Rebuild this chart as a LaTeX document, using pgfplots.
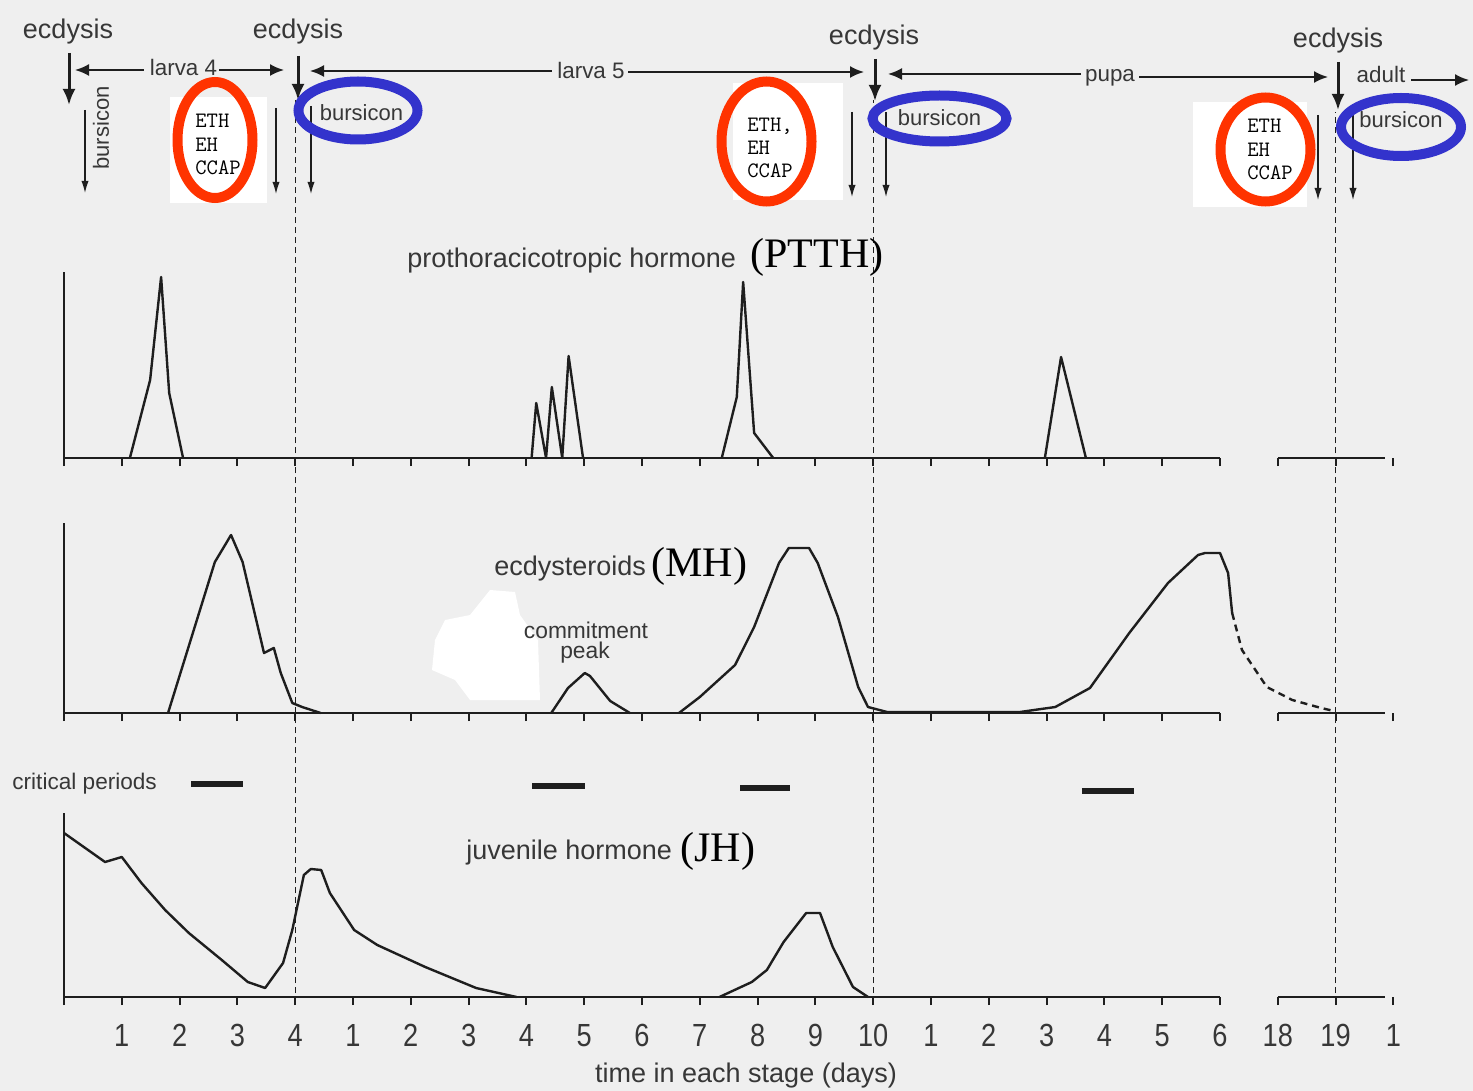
\documentclass[border=0pt]{standalone}
\usepackage{fontspec}
\setmainfont{Liberation Sans}
\newfontfamily\serif{Liberation Serif}
\usepackage{pgfplots}
\pgfplotsset{compat=1.18}
\usetikzlibrary{arrows.meta}
\definecolor{bg}{RGB}{239,239,239}
\definecolor{ink}{RGB}{30,30,30}
\definecolor{txt}{RGB}{55,55,55}
\definecolor{ered}{RGB}{255,51,0}
\definecolor{eblue}{RGB}{51,51,204}
\pgfplotsset{
  stage/.style={x=28.9pt, y=0.5pt, xmin=0, xmax=23, ymin=0, clip=false, anchor=south west,
    axis x line*=bottom, axis y line*=left,
    x axis line style={draw=none}, y axis line style={line width=1pt, ink},
    ytick=\empty, xtick={0,...,23}, xticklabels={}, tick align=outside, major tick length=4pt,
    every tick/.style={ink, line width=1pt}},
  curve/.style={ink, line width=1.2pt, line join=round, mark=none},
  base/.style={ink, line width=1pt, mark=none},
  dline/.style={ink, line width=0.7pt, dash pattern=on 3pt off 2pt, mark=none},
  crit/.style={ink, line width=2.6pt, mark=none},
}
\newcommand{\fs}[1]{\fontsize{#1}{#1}\selectfont}
\begin{document}
\begin{tikzpicture}
\begin{scope}[x=0.5pt,y=-0.5pt]
  \fill[bg] (0,0) rectangle (1473,1091);
  \path[use as bounding box] (0,0) rectangle (1473,1091);
  \fill[white] (170,97) rectangle (267,203);
  \fill[white] (733,83) rectangle (843,200);
  \fill[white] (1193,102) rectangle (1307,207);
  \fill[white] (490,590) -- (515,592) -- (520,615) -- (538,640) -- (540,700) -- (470,700) -- (455,680) -- (432,670) -- (435,640) -- (445,620) -- (470,615) -- cycle;
\end{scope}

% PTTH
\begin{axis}[stage, at={(32pt,-229pt)}, ymax=186]
  \addplot[base] coordinates {(0,0) (20,0)};
  \addplot[base] coordinates {(21,0) (22.85,0)};
  \addplot[curve] coordinates {(1.14,0) (1.49,78) (1.68,181) (1.82,65) (2.06,0)};
  \addplot[curve] coordinates {(8.09,0) (8.17,55) (8.34,0) (8.44,71) (8.62,0) (8.73,102) (8.98,0)};
  \addplot[curve] coordinates {(11.38,0) (11.64,61) (11.75,176) (11.94,25) (12.27,0)};
  \addplot[curve] coordinates {(16.97,0) (17.25,101) (17.68,0)};
\end{axis}

% ecdysteroids
\begin{axis}[stage, at={(32pt,-356.5pt)}, ymax=190]
  \addplot[base] coordinates {(0,0) (20,0)};
  \addplot[base] coordinates {(21,0) (22.85,0)};
  \addplot[curve] coordinates {(1.80,0) (2.61,151) (2.89,178) (3.09,151) (3.46,60) (3.63,65) (3.75,40) (3.95,10) (4.12,6) (4.44,0)};
  \addplot[curve] coordinates {(8.43,0) (8.72,25) (9.01,40) (9.10,37) (9.45,12) (9.79,0)};
  \addplot[curve] coordinates {(10.64,0) (11.0,16) (11.61,48) (11.94,86) (12.37,150) (12.54,165) (12.89,165) (13.04,150) (13.39,96) (13.74,26) (13.91,6) (14.24,1) (16.54,1) (17.15,6) (17.75,25) (18.43,80) (19.10,130) (19.62,158) (19.74,160) (20.0,160) (20.14,140) (20.21,100)};
  \addplot[curve, dash pattern=on 3.5pt off 2.5pt] coordinates {(20.21,100) (20.38,63) (20.81,26) (21.25,13) (21.75,5) (21.97,2)};
\end{axis}

% JH
\begin{axis}[stage, at={(32pt,-498.5pt)}, ymax=184,
    xticklabels={,1,2,3,4,1,2,3,4,5,6,7,8,9,10,1,2,3,4,5,6,18,19,1},
    xticklabel style={font=\fs{16}, txt, xscale=0.85, yshift=-6pt},
    /pgf/number format/assume math mode=true]
  \addplot[base] coordinates {(0,0) (20,0)};
  \addplot[base] coordinates {(21,0) (22.85,0)};
  \addplot[curve] coordinates {(0,164) (0.71,135) (1.00,140) (1.34,114) (1.75,87) (2.16,64) (2.73,37) (3.18,15) (3.48,9) (3.79,34) (3.95,67) (4.15,122) (4.27,128) (4.45,127) (4.60,104) (5.02,67) (5.42,52) (6.25,30) (7.13,9) (7.83,0)};
  \addplot[curve] coordinates {(11.34,0) (11.90,15) (12.16,27) (12.45,55) (12.84,84) (13.08,84) (13.30,50) (13.65,10) (13.91,0)};
  % critical periods
  \addplot[crit] coordinates {(2.20,213) (3.10,213)};
  \addplot[crit] coordinates {(8.10,211) (9.01,211)};
  \addplot[crit] coordinates {(11.70,209) (12.56,209)};
  \addplot[crit] coordinates {(17.61,206) (18.51,206)};
  % stage boundaries
  \addplot[dline] coordinates {(4,-6) (4,897)};
  \addplot[dline] coordinates {(14,-6) (14,897)};
  \addplot[dline] coordinates {(22,-6) (22,885)};
\end{axis}

\begin{scope}[x=0.5pt,y=-0.5pt]
  % ecdysis labels and arrows
  \foreach \x/\y in {68/39, 298/39, 874/45, 1338/48}
    \node[anchor=base, font=\fs{13.5}, txt, inner sep=0pt] at (\x,\y) {ecdysis};
  \foreach \x/\a/\b in {69/53/105, 298/56/100, 875/59/101, 1338/62/110}
    \draw[ink, line width=1.5pt, -{Latex[length=8pt,width=6.5pt]}] (\x,\a) -- (\x,\b);
  % thin arrows
  \foreach \x/\a/\b in {85/110/193, 276/108/194, 311/106/194, 852/112/197, 886/112/197, 1318/115/200, 1353/115/200}
    \draw[ink, line width=0.6pt, -{Latex[length=6pt,width=3.6pt]}] (\x,\a) -- (\x,\b);
  % stage arrows
  \draw[ink, line width=1pt, {Latex[length=7pt,width=6pt]}-] (75,70) -- (144,70);
  \draw[ink, line width=1pt, -{Latex[length=7pt,width=6pt]}] (219,70) -- (284,70);
  \node[anchor=base, font=\fs{11.2}, txt, inner sep=0pt] at (183.5,76) {larva 4};
  \draw[ink, line width=1pt, {Latex[length=7pt,width=6pt]}-] (310,71) -- (552,71);
  \draw[ink, line width=1pt, -{Latex[length=7pt,width=6pt]}] (628,72) -- (864,72);
  \node[anchor=base, font=\fs{11.2}, txt, inner sep=0pt] at (591,79) {larva 5};
  \draw[ink, line width=1pt, {Latex[length=7pt,width=6pt]}-] (888,74) -- (1081,74);
  \draw[ink, line width=1pt, -{Latex[length=7pt,width=6pt]}] (1139,77) -- (1328,77);
  \node[anchor=base, font=\fs{11.2}, txt, inner sep=0pt] at (1110,82) {pupa};
  \node[anchor=base, font=\fs{11.2}, txt, inner sep=0pt] at (1381,83) {adult};
  \draw[ink, line width=1pt, -{Latex[length=7pt,width=6pt]}] (1411,80) -- (1469,80);
  % rotated bursicon
  \node[rotate=90, font=\fs{11}, txt, inner sep=0pt] at (101,128) {bursicon};
  % red ellipses
  \draw[ered, line width=5pt] (215,140) ellipse [x radius=18.75pt, y radius=29pt];
  \draw[ered, line width=5pt] (766.5,141.5) ellipse [x radius=22.5pt, y radius=30pt];
  \draw[ered, line width=5pt] (1265.5,149.5) ellipse [x radius=22.5pt, y radius=26pt];
  \foreach \x/\a/\b/\c/\t in {195/128/152/175/ETH, 747/132/155/178/{ETH,}, 1247/133/157/180/ETH}{
    \node[anchor=base west, font=\ttfamily\fs{11}, inner sep=0pt] at (\x,\a) {\t};
    \node[anchor=base west, font=\ttfamily\fs{11}, inner sep=0pt] at (\x,\b) {EH};
    \node[anchor=base west, font=\ttfamily\fs{11}, inner sep=0pt] at (\x,\c) {CCAP};
  }
  % blue ellipses
  \draw[eblue, line width=5pt] (358,110.5) ellipse [x radius=29.75pt, y radius=14.5pt];
  \draw[eblue, line width=5pt] (939.5,118.5) ellipse [x radius=33.5pt, y radius=11.5pt];
  \draw[eblue, line width=5pt] (1401,127) ellipse [x radius=30pt, y radius=14.5pt];
  \node[anchor=base, font=\fs{11}, txt, inner sep=0pt] at (361.5,121) {bursicon};
  \node[anchor=base, font=\fs{11}, txt, inner sep=0pt] at (939.5,126) {bursicon};
  \node[anchor=base, font=\fs{11}, txt, inner sep=0pt] at (1401,128) {bursicon};
  % hormone labels
  \node[anchor=base west, font=\fs{13.5}, txt, inner sep=0pt] at (407,268) {prothoracicotropic hormone};
  \node[anchor=base west, font=\serif\fs{21}, inner sep=0pt] at (750,268) {(PTTH)};
  \node[anchor=base west, font=\fs{13.5}, txt, inner sep=0pt] at (494,575) {ecdysteroids};
  \node[anchor=base west, font=\serif\fs{21}, inner sep=0pt] at (651,576) {(MH)};
  \node[anchor=base, font=\fs{11.4}, txt, inner sep=0pt] at (586,638) {commitment};
  \node[anchor=base, font=\fs{11.4}, txt, inner sep=0pt] at (585,658) {peak};
  \node[anchor=base west, font=\fs{11.3}, txt, inner sep=0pt] at (12,789) {critical periods};
  \node[anchor=base west, font=\fs{13.5}, txt, inner sep=0pt] at (466,859) {juvenile hormone};
  \node[anchor=base west, font=\serif\fs{21}, inner sep=0pt] at (680,861) {(JH)};
  \node[anchor=base, font=\fs{13.5}, txt, inner sep=0pt] at (746,1082) {time in each stage (days)};
\end{scope}
\end{tikzpicture}
\end{document}
